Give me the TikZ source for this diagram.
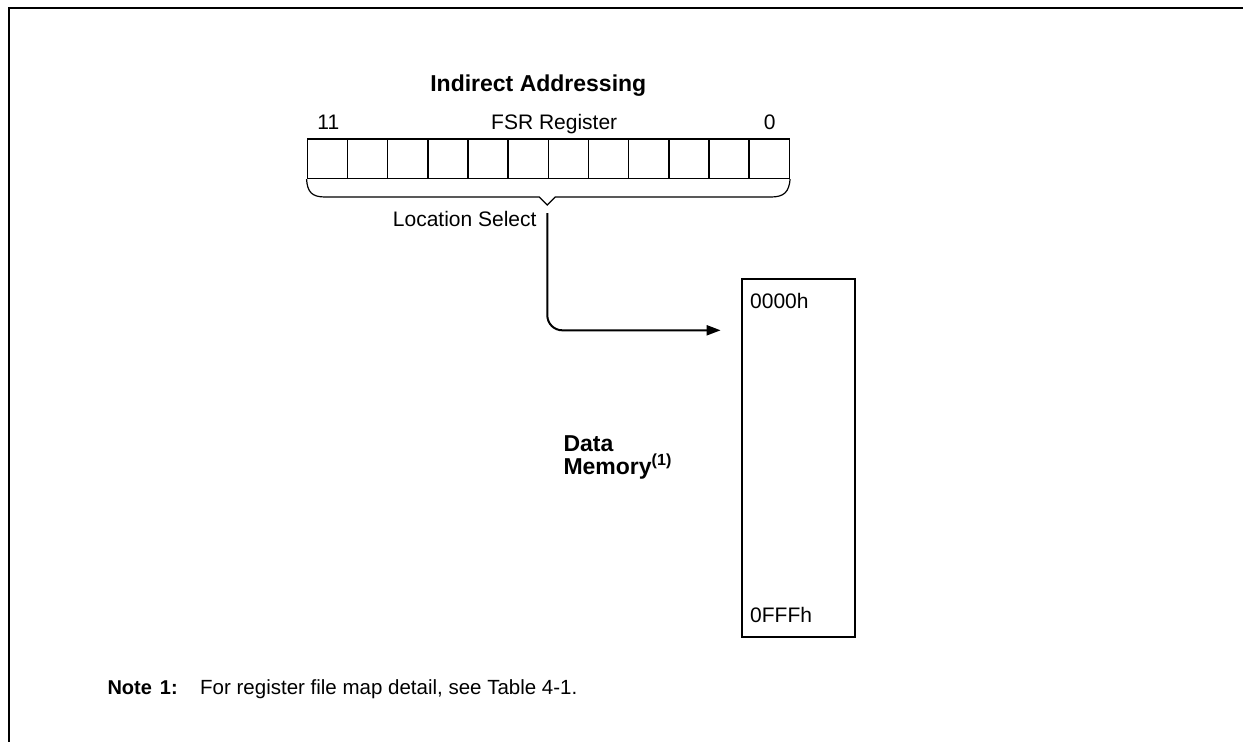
\documentclass[tikz,border=0pt]{standalone}
\usepackage{fontspec}
\setmainfont{Liberation Sans}
\usetikzlibrary{positioning,arrows.meta}

\tikzset{
  lbl/.style={font=\fontsize{21}{25}\selectfont, inner sep=0pt},
  hdr/.style={font=\fontsize{23}{23.3}\selectfont\bfseries, inner sep=0pt, align=left},
  cell/.style={draw, line width=1.5pt, minimum width=40.17pt, minimum height=39.3pt, inner sep=0pt},
  ptr/.style={line width=2pt, -{Triangle[length=14pt,width=10pt]}, rounded corners=15pt}
}

\begin{document}
\begin{tikzpicture}[x=1pt,y=-1pt]
    \useasboundingbox (0,0) rectangle (1243,742);
    \draw[line width=2pt] (9,742) -- (9,7.7) -- (1243,7.7);

    \node (title) [hdr, anchor=base] at (538.3,91.7) {Indirect Addressing};

    \foreach \i in {0,...,11}
        \node (c\i) [cell] at (327.4+40.17*\i,158.7) {};

    \node (msb) [lbl, anchor=base] at (328.3,129.3) {11};
    \node (fsr) [lbl, anchor=base] at (554.2,129.3) {FSR Register};
    \node (lsb) [lbl, anchor=base] at (769.7,129.3) {0};

    \coordinate (tip) at (547.3,205);
    \draw[line width=1.2pt] (c0.south west) .. controls (307.3,192) and (312,197) .. (325,197)
        -- (539.3,197) -- (tip) -- (555.3,197) -- (771,197)
        .. controls (784,197) and (789,192) .. (c11.south east);

    \node (sel) [lbl, anchor=base east] at (536.7,226.7) {Location Select};
    \coordinate (from) at (547.3,213);

    \node (mem) [draw, line width=2pt, minimum width=113.3pt, minimum height=357.4pt] at (798.3,458) {};
    \node (top) [lbl, anchor=base west] at (750,308.3) {0000h};
    \node (bot) [lbl, anchor=base west] at (750,622.7) {0FFFh};
    \node (data) [hdr, anchor=west] at (563.3,457.5) {Data\\Memory\textsuperscript{(1)}};

    \coordinate (to) at ([xshift=-20pt,yshift=-52pt]mem.north west);
    \draw[ptr] (from) |- (to);

    \node (note) [lbl, font=\fontsize{20}{25}\selectfont\bfseries, anchor=base west] at (107.3,694) {Note\hspace{0.4em}1:};
    \node (notetext) [lbl, font=\fontsize{20.5}{25}\selectfont, anchor=base west] at (200,694) {For register file map detail, see Table 4-1.};
\end{tikzpicture}
\end{document}
